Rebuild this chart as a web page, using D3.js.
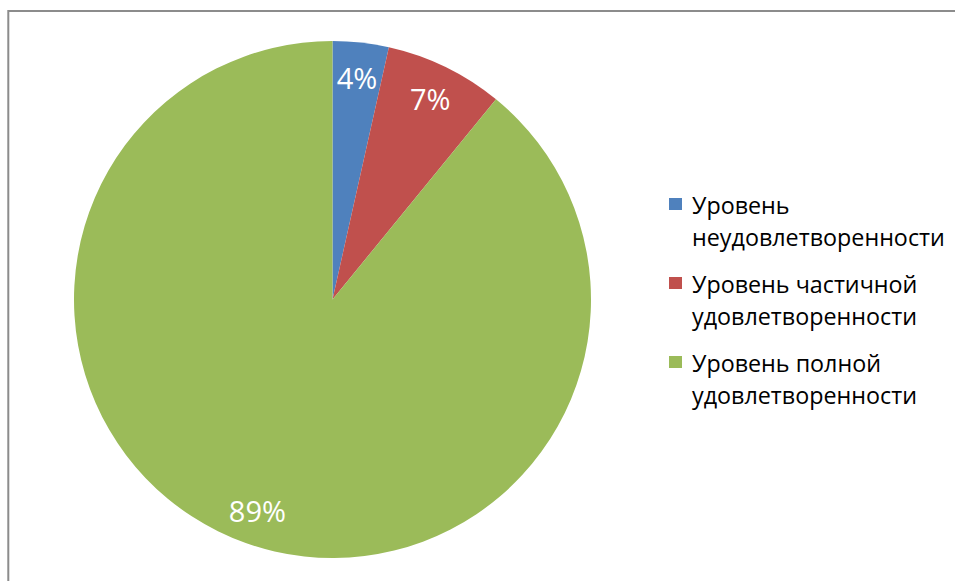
<!DOCTYPE html>
<html>
<head>
<meta charset="utf-8">
<script src="https://cdn.jsdelivr.net/npm/d3@7"></script>
<style>
  html, body { margin: 0; padding: 0; background: #fff; }
  svg { display: block; }
</style>
</head>
<body>
<svg id="chart" width="955" height="581"></svg>
<script>
const categories = [
  ["Уровень", "неудовлетворенности"],
  ["Уровень частичной", "удовлетворенности"],
  ["Уровень полной", "удовлетворенности"]
];
const values = [3.5, 7.4, 89.1];
const colors = ["#4F81BD", "#C0504D", "#9BBB59"];

const W = 955, H = 581;
const svg = d3.select("#chart");

// frame
svg.append("rect")
  .attr("x", 8.3).attr("y", 11)
  .attr("width", 1200).attr("height", 1200)
  .attr("fill", "none")
  .attr("stroke", "#8c8c8c")
  .attr("stroke-width", 2);

const cx = 332.5, cy = 299.5, R = 258.5;
const total = d3.sum(values);
const pie = d3.pie().sort(null).value(d => d);
const arcs = pie(values);
const arc = d3.arc().innerRadius(0).outerRadius(R);
const labelArc = d3.arc().innerRadius(R * 0.865).outerRadius(R * 0.865);

const g = svg.append("g").attr("transform", `translate(${cx},${cy})`);
g.selectAll("path.slice")
  .data(arcs)
  .join("path")
  .attr("class", "slice")
  .attr("d", arc)
  .attr("fill", (d, i) => colors[i]);

g.selectAll("text.pct")
  .data(arcs)
  .join("text")
  .attr("class", "pct")
  .attr("transform", d => `translate(${labelArc.centroid(d)})`)
  .attr("text-anchor", "middle")
  .attr("dominant-baseline", "central")
  .attr("fill", "#fff")
  .style("font-family", "'Open Sans', 'DejaVu Sans', sans-serif")
  .style("font-size", "29px")
  .text(d => Math.round(d.data / total * 100) + "%");

// legend
const lg = svg.append("g").attr("transform", "translate(668,0)");
const entryY = [205, 284, 363];
const lineGap = 31.5;
const items = lg.selectAll("g.item")
  .data(categories)
  .join("g")
  .attr("class", "item")
  .attr("transform", (d, i) => `translate(0,${entryY[i]})`);
items.append("rect")
  .attr("x", 1).attr("y", -7)
  .attr("width", 13).attr("height", 12)
  .attr("fill", (d, i) => colors[i]);
items.each(function(d) {
  const t = d3.select(this).append("text")
    .attr("x", 24)
    .style("font-family", "'Open Sans', 'DejaVu Sans', sans-serif")
    .style("font-size", "23.3px")
    .attr("fill", "#000");
  d.forEach((line, j) => {
    t.append("tspan")
      .attr("x", 24)
      .attr("y", j * lineGap)
      .attr("dominant-baseline", "central")
      .text(line);
  });
});
</script>
</body>
</html>
